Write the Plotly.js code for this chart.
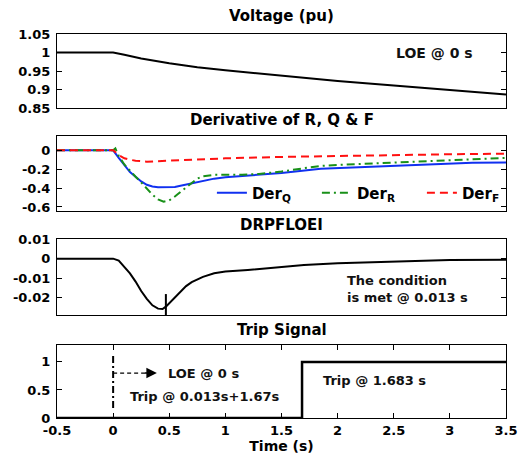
<!DOCTYPE html>
<html><head><meta charset="utf-8">
<script src="https://cdn.plot.ly/plotly-3.0.1.min.js"></script>
<style>html,body{margin:0;padding:0;background:#fff}#chart{width:525px;height:459px}</style>
</head><body><div id="chart"></div>
<script>
// ---- axes / tick labels ----
const timeTicks = [-0.5, 0, 0.5, 1, 1.5, 2, 2.5, 3, 3.5];
const timeTickText = ['-0.5', '0', '0.5', '1', '1.5', '2', '2.5', '3', '3.5'];
const voltTicks = [0.85, 0.9, 0.95, 1, 1.05];
const voltTickText = ['0.85', '0.9', '0.95', '1', '1.05'];
const derTicks = [-0.6, -0.4, -0.2, 0];
const derTickText = ['-0.6', '-0.4', '-0.2', '0'];
const drpfTicks = [-0.02, -0.01, 0, 0.01];
const drpfTickText = ['-0.02', '-0.01', '0', '0.01'];
const tripTicks = [0, 0.5, 1];
const tripTickText = ['0', '0.5', '1'];

// ---- Voltage (pu) ----
const voltT = [-0.5, 0, 0.1, 0.25, 0.5, 0.75, 1.0, 1.25, 1.5, 2.0, 2.5, 3.0, 3.5];
const voltV = [1, 1, 0.994, 0.984, 0.971, 0.960, 0.952, 0.945, 0.937, 0.923, 0.911, 0.899, 0.887];

// ---- Derivatives ----
const derQT = [-0.5, 0, 0.05, 0.1, 0.15, 0.2, 0.25, 0.3, 0.35, 0.4, 0.5, 0.55, 0.6, 0.7, 0.8, 0.9, 1.0, 1.15, 1.3, 1.5, 1.85, 2.3, 2.75, 3.2, 3.5];
const derQV = [0, 0, -0.08, -0.16, -0.23, -0.28, -0.33, -0.365, -0.383, -0.39, -0.392, -0.388, -0.375, -0.35, -0.32, -0.30, -0.285, -0.27, -0.26, -0.24, -0.195, -0.17, -0.152, -0.131, -0.128];
const derRT = [-0.5, 0, 0.02, 0.05, 0.1, 0.15, 0.2, 0.25, 0.3, 0.35, 0.4, 0.45, 0.5, 0.55, 0.6, 0.65, 0.7, 0.75, 0.8, 0.9, 1.0, 1.15, 1.3, 1.5, 1.7, 1.85, 2.0, 2.3, 2.75, 3.2, 3.5];
const derRV = [0, 0, 0.02, -0.06, -0.15, -0.22, -0.28, -0.34, -0.41, -0.47, -0.52, -0.545, -0.53, -0.49, -0.44, -0.39, -0.34, -0.30, -0.275, -0.26, -0.26, -0.26, -0.25, -0.225, -0.19, -0.165, -0.155, -0.14, -0.12, -0.09, -0.08];
const derFT = [-0.5, 0, 0.05, 0.1, 0.15, 0.2, 0.3, 0.4, 0.55, 0.7, 0.85, 1.0, 1.5, 2.0, 2.5, 3.0, 3.5];
const derFV = [0, 0, -0.05, -0.085, -0.1, -0.11, -0.12, -0.115, -0.105, -0.1, -0.09, -0.085, -0.07, -0.058, -0.05, -0.042, -0.035];

// ---- DRPFLOEI ----
const drpfT = [-0.5, 0, 0.05, 0.1, 0.15, 0.2, 0.25, 0.3, 0.35, 0.4, 0.44, 0.47, 0.5, 0.55, 0.6, 0.65, 0.7, 0.8, 0.9, 1.0, 1.2, 1.5, 1.7, 2.0, 2.5, 3.0, 3.5];
const drpfV = [0, 0, -0.001, -0.004, -0.0075, -0.0117, -0.0165, -0.0205, -0.0238, -0.0255, -0.0257, -0.0245, -0.0228, -0.02, -0.0167, -0.014, -0.012, -0.0093, -0.0075, -0.0066, -0.0058, -0.0042, -0.0033, -0.0024, -0.0015, -0.0007, -0.0005];
const condT = [0.47];
const condV = [-0.0245];

// ---- Trip signal ----
const tripT = [-0.5, 1.683, 1.683, 3.5];
const tripV = [0, 0, 1, 1];
const loeT = [0, 0];
const loeV = [0.18, 1.12];
const arrowT = [0, 0.3];
const arrowV = [0.8, 0.8];

const FONT = 'DejaVu Sans, Arial, sans-serif';
const black = '#000';

const traces = [
  {x: voltT, y: voltV, xaxis: 'x', yaxis: 'y', mode: 'lines', line: {color: black, width: 2}, showlegend: false},
  {x: derQT, y: derQV, xaxis: 'x2', yaxis: 'y2', mode: 'lines', name: 'Der<sub>Q</sub>', line: {color: '#1030f0', width: 2}},
  {x: derRT, y: derRV, xaxis: 'x2', yaxis: 'y2', mode: 'lines', name: 'Der<sub>R</sub>', line: {color: '#189018', width: 2, dash: '8px,4px,2px,4px'}},
  {x: derFT, y: derFV, xaxis: 'x2', yaxis: 'y2', mode: 'lines', name: 'Der<sub>F</sub>', line: {color: '#ff1010', width: 2, dash: '8px,5px'}},
  {x: drpfT, y: drpfV, xaxis: 'x3', yaxis: 'y3', mode: 'lines', line: {color: black, width: 2}, showlegend: false},
  {x: condT, y: condV, xaxis: 'x3', yaxis: 'y3', mode: 'markers', marker: {symbol: 'line-ns', size: 18, line: {color: black, width: 2}}, showlegend: false},
  {x: tripT, y: tripV, xaxis: 'x4', yaxis: 'y4', mode: 'lines', line: {color: black, width: 2.5}, showlegend: false, cliponaxis: false},
  {x: loeT, y: loeV, xaxis: 'x4', yaxis: 'y4', mode: 'lines', line: {color: black, width: 2, dash: '7px,3px,2px,3px'}, showlegend: false},
  {x: arrowT, y: arrowV, xaxis: 'x4', yaxis: 'y4', mode: 'lines', line: {color: black, width: 1.2, dash: '4px,3px'}, showlegend: false}
];

function xax(domainShow, anchor) {
  return {
    range: [-0.5, 3.5], anchor: anchor, showgrid: false, zeroline: false,
    showline: true, linecolor: black, linewidth: 1, mirror: domainShow ? 'ticks' : true,
    ticks: domainShow ? 'inside' : '', ticklen: 5, tickcolor: black,
    tickvals: timeTicks, ticktext: timeTickText, showticklabels: domainShow,
    tickfont: {family: FONT, size: 13, color: black, weight: 'bold'}
  };
}
function yax(domain, range, vals, text, anchor) {
  return {
    domain: domain, range: range, anchor: anchor, showgrid: false, zeroline: false,
    showline: true, linecolor: black, linewidth: 1, mirror: 'ticks',
    ticks: 'inside', ticklen: 5, tickcolor: black,
    tickvals: vals, ticktext: text, ticklabelstandoff: 3,
    tickfont: {family: FONT, size: 13, color: black, weight: 'bold'}
  };
}

const titleFont = {family: FONT, size: 15, color: black, weight: 'bold'};
const annFont = {family: FONT, size: 13, color: '#111', weight: 'bold'};

const x4 = xax(true, 'y4');
x4.title = {text: 'Time (s)', font: {family: FONT, size: 14, color: black, weight: 'bold'}, standoff: 3};

const layout = {
  width: 525, height: 459,
  margin: {l: 57, r: 19, t: 34, b: 41, autoexpand: false},
  paper_bgcolor: '#fff', plot_bgcolor: '#fff',
  font: {family: FONT, color: black},
  xaxis: xax(false, 'y'),
  xaxis2: xax(false, 'y2'),
  xaxis3: xax(false, 'y3'),
  xaxis4: x4,
  yaxis: yax([0.807, 1], [0.85, 1.05], voltTicks, voltTickText, 'x'),
  yaxis2: yax([0.539, 0.734], [-0.643, 0.15], derTicks, derTickText, 'x2'),
  yaxis3: yax([0.268, 0.466], [-0.0288, 0.01], drpfTicks, drpfTickText, 'x3'),
  yaxis4: yax([0, 0.19], [0, 1.3], tripTicks, tripTickText, 'x4'),
  legend: {
    orientation: 'h', x: 0.345, xanchor: 'left', y: 0.586, yanchor: 'middle',
    bgcolor: 'rgba(0,0,0,0)', borderwidth: 0,
    font: {family: FONT, size: 15, color: black, weight: 'bold'},
    itemwidth: 30, entrywidth: 60, entrywidthmode: 'pixels', tracegroupgap: 0
  },
  annotations: [
    {text: 'Voltage (pu)', xref: 'paper', yref: 'paper', x: 0.5, y: 1.047, xanchor: 'center', yanchor: 'middle', showarrow: false, font: titleFont},
    {text: 'Derivative of R, Q &amp; F', xref: 'paper', yref: 'paper', x: 0.5, y: 0.776, xanchor: 'center', yanchor: 'middle', showarrow: false, font: titleFont},
    {text: 'DRPFLOEI', xref: 'paper', yref: 'paper', x: 0.5, y: 0.503, xanchor: 'center', yanchor: 'middle', showarrow: false, font: titleFont},
    {text: 'Trip Signal', xref: 'paper', yref: 'paper', x: 0.5, y: 0.229, xanchor: 'center', yanchor: 'middle', showarrow: false, font: titleFont},
    {text: 'LOE @ 0 s', xref: 'x', yref: 'y', x: 2.86, y: 1.0, xanchor: 'center', yanchor: 'middle', showarrow: false, font: {family: FONT, size: 14, color: '#111', weight: 'bold'}},
    {text: 'The condition<br>is met @ 0.013 s', xref: 'x3', yref: 'y3', x: 2.07, y: -0.0153, xanchor: 'left', yanchor: 'middle', align: 'left', showarrow: false, font: annFont},
    {text: 'LOE @ 0 s', xref: 'x4', yref: 'y4', x: 0.47, y: 0.8, xanchor: 'left', yanchor: 'middle', showarrow: false, font: annFont},
    {text: 'Trip @ 0.013s+1.67s', xref: 'x4', yref: 'y4', x: 0.13, y: 0.38, xanchor: 'left', yanchor: 'middle', showarrow: false, font: annFont},
    {text: 'Trip @ 1.683 s', xref: 'x4', yref: 'y4', x: 1.85, y: 0.66, xanchor: 'left', yanchor: 'middle', showarrow: false, font: annFont},
    {text: '', xref: 'x4', yref: 'y4', x: 0.39, y: 0.8, axref: 'x4', ayref: 'y4', ax: 0.27, ay: 0.8, showarrow: true, arrowhead: 2, arrowsize: 1.4, arrowwidth: 1.5, arrowcolor: black}
  ]
};

Plotly.newPlot('chart', traces, layout, {displayModeBar: false, staticPlot: true});
</script>
</body></html>
